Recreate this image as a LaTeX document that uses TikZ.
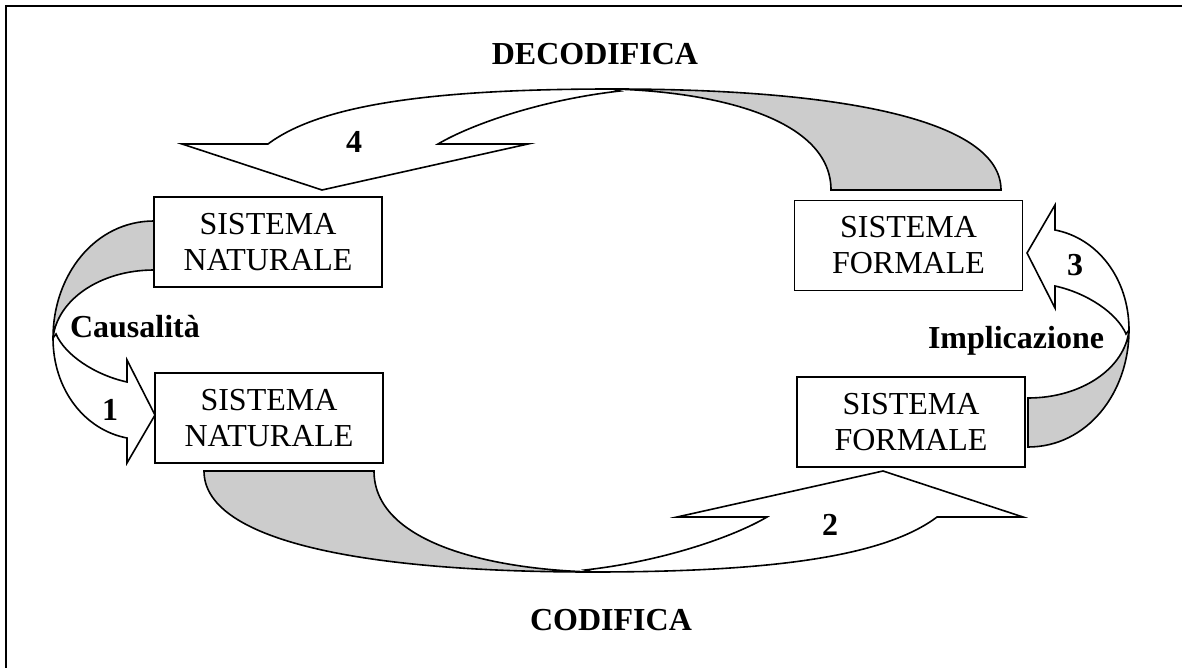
\documentclass[tikz,border=0pt]{standalone}
\usepackage{fontspec}
\setmainfont{Liberation Serif}

\tikzset{
  sysbox/.style={draw, line width=1.8pt, minimum width=228pt, minimum height=90pt,
    inner sep=0pt, align=center, font=\fontsize{32}{36}\selectfont},
  lbl/.style={anchor=base, font=\bfseries\fontsize{32}{36}\selectfont},
  band/.style={draw, line width=1.6pt, fill=white},
  back/.style={draw, line width=1.6pt, fill=black!20},
}

\begin{document}
\begin{tikzpicture}[x=1pt, y=-1pt]
  \useasboundingbox (0,0) rectangle (1182,668);
  % frame
  \draw[line width=2pt] (6,668) -- (6,6) -- (1182,6);
  % the four systems
  \node[sysbox] (natA) at (268,242) {SISTEMA\\NATURALE};
  \node[sysbox] (natB) at (269,418) {SISTEMA\\NATURALE};
  \node[sysbox] (formA) at (908.5,245.5) {SISTEMA\\FORMALE};
  \node[sysbox] (formB) at (911,422) {SISTEMA\\FORMALE};
  % decodifica (top), codifica = same shape turned half round
  \foreach \ang in {0,180} {
    \begin{scope}[rotate around={\ang:(602.5,330.5)}]
      \draw[back] (613,89) .. controls (850,89) and (1001,122) .. (1001,190)
        -- (831,190) .. controls (831,120) and (720,92) .. (613,89) -- cycle;
      \draw[band] (322,190) -- (182,144) -- (268,144)
        .. controls (320,105) and (430,89) .. (613,89) -- (620,91)
        .. controls (540,100) and (470,125) .. (438,144) -- (528,144) -- cycle;
    \end{scope}
  }
  % causalita (left), implicazione = same shape turned half round
  \foreach \ang in {0,180} {
    \begin{scope}[rotate around={\ang:(591,334)}]
      \draw[back] (154,221) .. controls (95,221) and (53,275) .. (53,338)
        .. controls (57,300) and (100,270) .. (154,270) -- cycle;
      \draw[band] (53,338) .. controls (53,390) and (85,430) .. (127,438)
        -- (127,463) -- (155,415) -- (127,360) -- (127,382)
        .. controls (95,375) and (65,355) .. (56,334) -- cycle;
    \end{scope}
  }
  % labels
  \node[lbl] (deco) at (595,65) {DECODIFICA};
  \node[lbl] (codi) at (611,630) {CODIFICA};
  \node[lbl] (caus) at (135,337) {Causalità};
  \node[lbl] (impl) at (1016,348) {Implicazione};
  \node[lbl] (one) at (110,420) {1};
  \node[lbl] (two) at (830,535) {2};
  \node[lbl] (three) at (1075,275) {3};
  \node[lbl] (four) at (354,153) {4};
\end{tikzpicture}
\end{document}
